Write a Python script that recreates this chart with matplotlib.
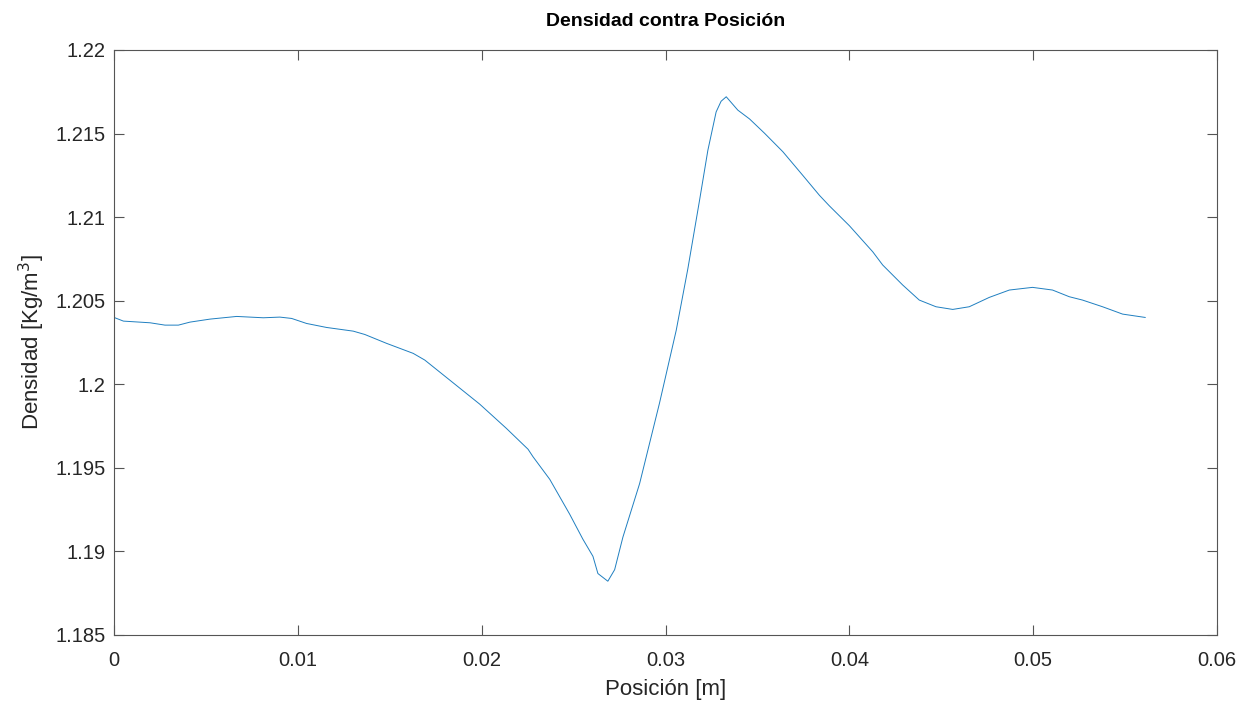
import matplotlib
matplotlib.use("Agg")
import matplotlib.pyplot as plt

plt.rcParams['font.family'] = ['Liberation Sans', 'DejaVu Sans']

# Posicion [m] and Densidad [Kg/m^3]
posicion = [0.0, 0.00051, 0.00196, 0.00277, 0.0035, 0.00413, 0.00522, 0.00667,
            0.00812, 0.00902, 0.00966, 0.01047, 0.01156, 0.01301, 0.01364,
            0.01482, 0.01627, 0.0169, 0.01826, 0.01989, 0.02134, 0.02252,
            0.02279, 0.0237, 0.02478, 0.0255, 0.02605, 0.02632, 0.02686,
            0.02723, 0.02768, 0.02859, 0.02967, 0.03058, 0.03121, 0.03185,
            0.0323, 0.03275, 0.03302, 0.0333, 0.03393, 0.03457, 0.03538,
            0.03638, 0.03746, 0.03837, 0.03891, 0.04, 0.04127, 0.04181,
            0.0429, 0.0438, 0.04471, 0.04562, 0.04652, 0.04761, 0.0487,
            0.04996, 0.05105, 0.05196, 0.05268, 0.05377, 0.05486, 0.05609]
densidad = [1.20399, 1.20377, 1.20367, 1.20353, 1.20353, 1.20371, 1.20389, 1.20405,
            1.20397, 1.20401, 1.20393, 1.20363, 1.20339, 1.20317, 1.20297,
            1.20244, 1.20184, 1.20144, 1.20024, 1.19880, 1.19735, 1.19610,
            1.19565, 1.19430, 1.19222, 1.19072, 1.18969, 1.18866, 1.18820,
            1.18889, 1.19084, 1.19405, 1.19886, 1.20322, 1.20689, 1.21101,
            1.21399, 1.21629, 1.21693, 1.21720, 1.21640, 1.21587, 1.21502,
            1.21391, 1.21250, 1.21130, 1.21067, 1.20948, 1.20792, 1.20713,
            1.20593, 1.20503, 1.20463, 1.20447, 1.20463, 1.20519, 1.20563,
            1.20579, 1.20563, 1.20523, 1.20503, 1.20463, 1.20419, 1.20399]

xticks = [0, 0.01, 0.02, 0.03, 0.04, 0.05, 0.06]
xticklabels = ['0', '0.01', '0.02', '0.03', '0.04', '0.05', '0.06']
yticks = [1.185, 1.19, 1.195, 1.2, 1.205, 1.21, 1.215, 1.22]
yticklabels = ['1.185', '1.19', '1.195', '1.2', '1.205', '1.21', '1.215', '1.22']

axcolor = '#262626'

fig = plt.figure(figsize=(12.52, 7.07), dpi=100)
ax = fig.add_axes([0.0911, 0.1023, 0.8810, 0.8270])

ax.plot(posicion, densidad, color='#1f7fc0', linewidth=0.7)

ax.set_xlim(0, 0.06)
ax.set_ylim(1.185, 1.22)
ax.set_xticks(xticks)
ax.set_xticklabels(xticklabels)
ax.set_yticks(yticks)
ax.set_yticklabels(yticklabels)

ax.tick_params(direction='in', length=7.5, width=0.8, color='#555555',
               labelcolor=axcolor, labelsize=14.5, top=True, right=True)
ax.tick_params(axis='x', pad=12)
ax.tick_params(axis='y', pad=6)
for s in ax.spines.values():
    s.set_color('#555555')
    s.set_linewidth(0.8)

ax.set_xlabel('Posición [m]', fontsize=16, color=axcolor, labelpad=6)
ax.set_ylabel('Densidad [Kg/m$^3$]', fontsize=16, color=axcolor, labelpad=6)
ax.set_title('Densidad contra Posición', fontsize=14, fontweight='bold',
             color='black', pad=17)

fig.savefig('out.png', dpi=100, facecolor='white')
